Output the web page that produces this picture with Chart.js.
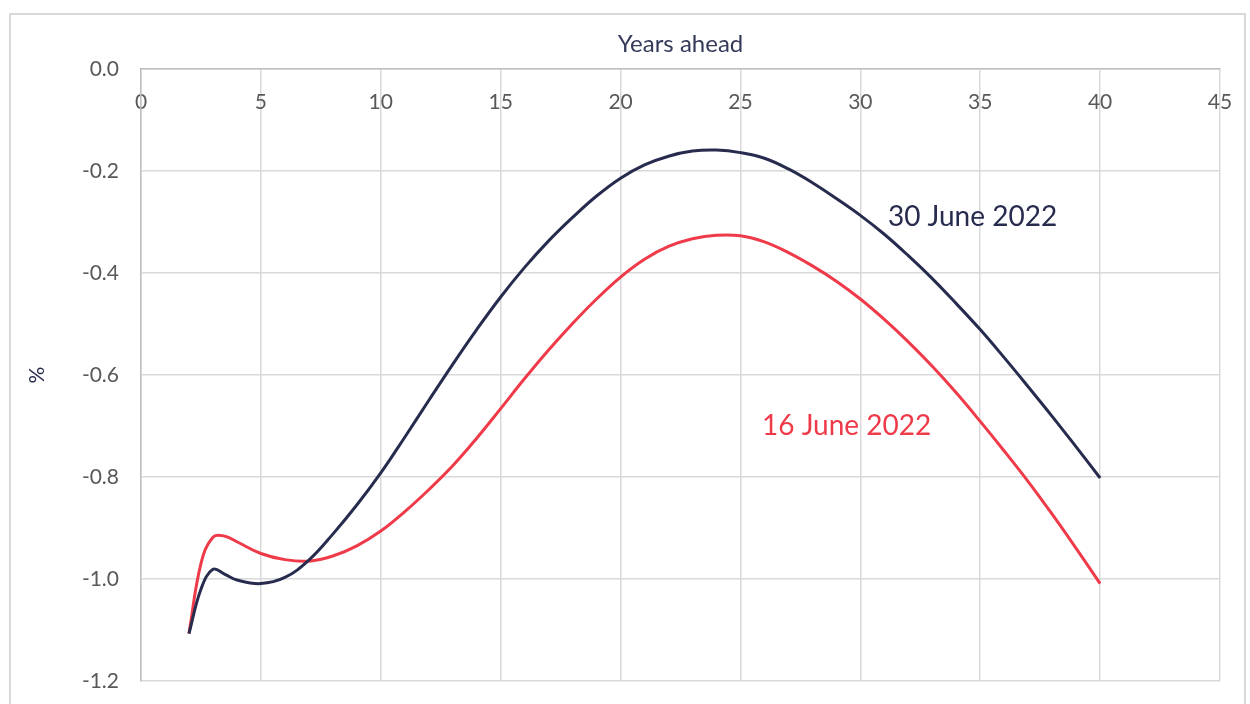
<!DOCTYPE html>
<html>
<head>
<meta charset="utf-8">
<script src="https://cdn.jsdelivr.net/npm/chart.js@4.4.1/dist/chart.umd.min.js"></script>
<style>
  html, body { margin: 0; padding: 0; background: #fff; overflow: hidden; }
  #frame { position: absolute; left: 9px; top: 13px; width: 1237px; height: 720px; border: 2px solid #d9d9d9; box-sizing: border-box; }
  #chart { position: absolute; left: 0; top: 0; }
</style>
</head>
<body>
<div id="frame"></div>
<canvas id="chart" width="1250" height="704"></canvas>
<script>
// Years ahead (x values)
const years = [2, 2.5, 3, 3.5, 4, 5, 6, 7, 8, 9, 10, 11, 12, 13, 14, 15, 16, 17, 18, 19, 20,
               21, 22, 23, 24, 25, 26, 27, 28, 29, 30, 31, 32, 33, 34, 35, 36, 37, 38, 39, 40];

// 30 June 2022 curve (%)
const june30 = [-1.107, -1.02, -0.981, -0.991, -1.002, -1.009, -0.997, -0.963, -0.912, -0.855, -0.792,
                -0.722, -0.650, -0.579, -0.511, -0.447, -0.389, -0.337, -0.291, -0.249, -0.214,
                -0.188, -0.171, -0.161, -0.159, -0.164, -0.175, -0.196, -0.223, -0.254, -0.287,
                -0.324, -0.366, -0.411, -0.460, -0.511, -0.566, -0.623, -0.681, -0.741, -0.802];

// 16 June 2022 curve (%)
const june16 = [-1.107, -0.970, -0.918, -0.916, -0.927, -0.950, -0.962, -0.965, -0.955, -0.935, -0.906,
                -0.868, -0.825, -0.778, -0.724, -0.666, -0.607, -0.551, -0.499, -0.451, -0.408,
                -0.373, -0.348, -0.333, -0.326, -0.327, -0.339, -0.360, -0.386, -0.416, -0.451,
                -0.491, -0.535, -0.583, -0.635, -0.691, -0.749, -0.809, -0.873, -0.940, -1.009];

const seriesNames = ['30 June 2022', '16 June 2022'];
const xTicks = [0, 5, 10, 15, 20, 25, 30, 35, 40, 45];
const yTicks = [-1.2, -1.0, -0.8, -0.6, -0.4, -0.2, 0];

const NAVY = '#272b4e';
const RED = '#ef3a49';
const GRID = '#d9d9d9';
const FONT = 'Lato';

const toPoints = vals => years.map((x, i) => ({ x: x, y: vals[i] }));

// text labels next to the curves
const seriesLabels = {
  id: 'seriesLabels',
  afterDatasetsDraw(chart) {
    const { ctx, scales: { x, y } } = chart;
    const spots = [[31.15, -0.29], [25.9, -0.70]];
    ctx.save();
    ctx.font = '28px ' + FONT;
    ctx.textBaseline = 'middle';
    ctx.textAlign = 'left';
    chart.data.datasets.forEach((ds, i) => {
      ctx.fillStyle = ds.borderColor;
      ctx.fillText(ds.label, x.getPixelForValue(spots[i][0]), y.getPixelForValue(spots[i][1]));
    });
    ctx.restore();
  }
};

new Chart(document.getElementById('chart').getContext('2d'), {
  type: 'line',
  data: {
    datasets: [
      { label: seriesNames[0], data: toPoints(june30), borderColor: NAVY, borderWidth: 3,
        pointRadius: 0, tension: 0.4 },
      { label: seriesNames[1], data: toPoints(june16), borderColor: RED, borderWidth: 3,
        pointRadius: 0, tension: 0.4 }
    ]
  },
  options: {
    responsive: false,
    animation: false,
    layout: { padding: { left: 0, right: 30, top: 0, bottom: 23 } },
    plugins: { legend: { display: false }, tooltip: { enabled: false } },
    scales: {
      x: {
        type: 'linear',
        position: 'top',
        min: 0,
        max: 45,
        afterBuildTicks: s => { s.ticks = xTicks.map(v => ({ value: v })); },
        afterFit: s => { s.height = 69; s.paddingLeft = 0; s.paddingRight = 0; },
        ticks: { mirror: true, padding: 21, color: '#595959', font: { family: FONT, size: 21 } },
        grid: { color: GRID, lineWidth: 1.5, drawTicks: false },
        border: { color: '#bfbfbf', width: 1.5 },
        title: { display: true, text: 'Years ahead', color: '#353a5a',
                 font: { family: FONT, size: 24 }, padding: { top: 30, bottom: 0 } }
      },
      y: {
        min: -1.2,
        max: 0,
        afterBuildTicks: s => { s.ticks = yTicks.map(v => ({ value: v })); },
        afterFit: s => { s.width = 141; s.paddingTop = 0; s.paddingBottom = 0; },
        ticks: { padding: 22, color: '#595959', font: { family: FONT, size: 21 },
                 callback: v => v.toFixed(1) },
        grid: { color: GRID, lineWidth: 1.5, drawTicks: false },
        border: { color: '#bfbfbf', width: 1.5 },
        title: { display: true, text: '%', color: NAVY,
                 font: { family: FONT, size: 21 }, padding: { top: 25, bottom: 0 } }
      }
    }
  },
  plugins: [seriesLabels]
});
</script>
</body>
</html>
